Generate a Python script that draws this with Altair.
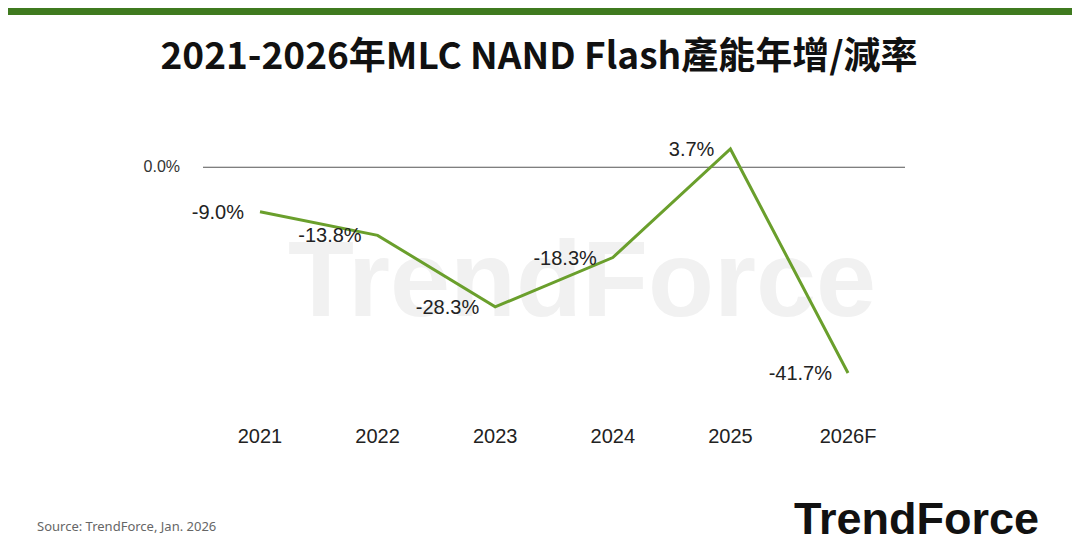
import altair as alt
import pandas as pd

years = ["2021", "2022", "2023", "2024", "2025", "2026F"]
values = [-9.0, -13.8, -28.3, -18.3, 3.7, -41.7]
labels = ["-9.0%", "-13.8%", "-28.3%", "-18.3%", "3.7%", "-41.7%"]

title_text = "2021-2026年MLC NAND Flash產能年增/減率"
source_text = "Source: TrendForce, Jan. 2026"
zero_label = "0.0%"

df = pd.DataFrame({"year": years, "value": values, "label": labels})
one = pd.DataFrame({"value": [0.0]})

W, H = 1064, 544
xs = alt.Scale(domain=years, range=[252, 840], padding=0)
ys = alt.Scale(domain=[-41.7, 3.7], range=[365, 141])

X = alt.X("year:O", scale=xs, axis=None, sort=years)
Y = alt.Y("value:Q", scale=ys, axis=None)

bar = alt.Chart(one).mark_rect(color="#3f7a1f").encode(
    x=alt.value(-8), x2=alt.value(W + 8), y=alt.value(0), y2=alt.value(7)
)

watermark = alt.Chart(one).mark_text(
    text="TrendForce", font="Liberation Sans", fontWeight="bold", fontSize=108,
    color="#f1f1f1", align="center", baseline="middle"
).encode(x=alt.value(574), y=alt.value(276))

title = alt.Chart(one).mark_text(
    text=title_text, font="Noto Sans CJK TC", fontWeight="bold", fontSize=37,
    color="#111111", align="center", baseline="middle"
).encode(x=alt.value(531), y=alt.value(50))

zero_rule = alt.Chart(one).mark_rule(color="#555555", strokeWidth=1).encode(
    y=alt.Y("value:Q", scale=ys, axis=None), x=alt.value(195), x2=alt.value(897)
)

zero_text = alt.Chart(one).mark_text(
    text=zero_label, font="Liberation Sans", fontSize=16, color="#333333",
    align="right", baseline="middle"
).encode(y=alt.Y("value:Q", scale=ys, axis=None), x=alt.value(172))

line = alt.Chart(df).mark_line(color="#6a9f2c", strokeWidth=3).encode(x=X, y=Y)

pt_labels = alt.Chart(df).mark_text(
    font="Liberation Sans", fontSize=20, color="#222222", align="right",
    baseline="middle", dx=-16, dy=1
).encode(x=X, y=Y, text="label:N")

year_labels = alt.Chart(df).mark_text(
    font="Liberation Sans", fontSize=20, color="#222222", align="center",
    baseline="middle"
).encode(x=X, y=alt.value(429), text="year:N")

source = alt.Chart(one).mark_text(
    text=source_text, font="Noto Sans", fontSize=13, color="#666666",
    align="left", baseline="middle"
).encode(x=alt.value(29), y=alt.value(519))

logo = alt.Chart(one).mark_text(
    text="TrendForce", font="Liberation Sans", fontWeight="bold", fontSize=45,
    color="#111111", align="left", baseline="middle"
).encode(x=alt.value(786), y=alt.value(512))

chart = alt.layer(
    bar, watermark, title, zero_rule, zero_text, line, pt_labels,
    year_labels, source, logo
).properties(
    width=W, height=H, autosize=alt.AutoSizeParams(type="none"), padding=0
).configure(background="white").configure_view(stroke=None, strokeWidth=0)

chart.save("out.html", embed_options={"renderer": "svg", "actions": False})
